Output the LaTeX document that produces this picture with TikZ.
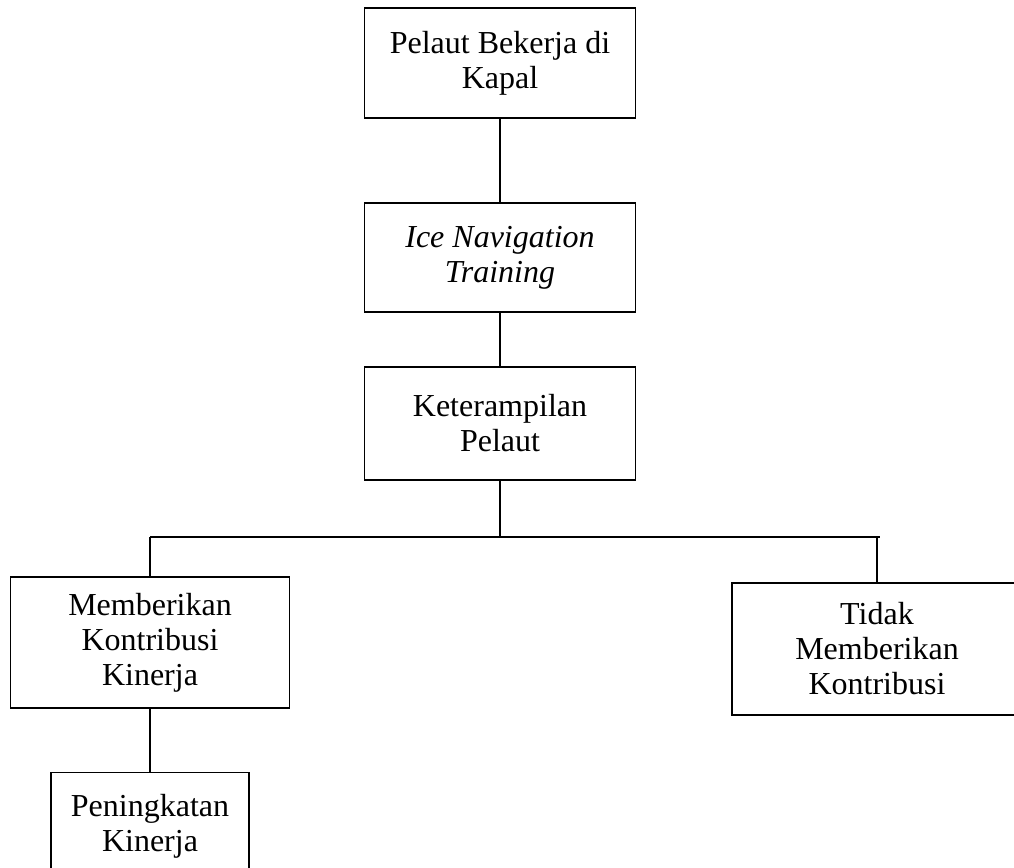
\documentclass[tikz,border=0pt]{standalone}
\usepackage{fontspec}
\setmainfont{Liberation Serif}
\usepackage{tikz}
\usetikzlibrary{positioning}
\tikzset{box/.style={draw, line width=0.6pt, rectangle, align=center, inner sep=0pt, minimum width=135.5pt, font=\fontsize{16}{17.5}\selectfont}, link/.style={draw, line width=0.6pt}}

\begin{document}
\begin{tikzpicture}[x=0.5pt, y=-0.5pt]
    \useasboundingbox (0,0) rectangle (1014,868);
    \node[box, minimum height=55pt] (Kapal) at (500,63) {Pelaut Bekerja di\\Kapal};
    \node[box, minimum height=54.5pt, font=\fontsize{16}{17.5}\selectfont\itshape] (Ice) at (500,257.5) {Ice Navigation\\Training};
    \node[box, minimum height=56.5pt] (Skill) at (500,423.5) {Keterampilan\\Pelaut};
    \node[box, minimum width=139.5pt, minimum height=65.5pt] (Kontribusi) at (150,642.5) {Memberikan\\Kontribusi\\Kinerja};
    \node[box, minimum width=145pt, minimum height=66pt] (Tidak) at (877,649) {Tidak\\Memberikan\\Kontribusi};
    \node[box, minimum width=99pt, minimum height=54pt, anchor=north] (Kinerja) at (150,772) {Peningkatan\\Kinerja};
    \coordinate (Bus) at (500,537);
    \coordinate (BusL) at (150,537);
    \coordinate (BusR) at (880,537);
    \path[link] (Kapal) -- (Ice);
    \path[link] (Ice) -- (Skill);
    \path[link] (Skill.south) -- (Bus);
    \path[link] (BusL) -- (BusR);
    \path[link] (BusL) -- (Kontribusi.north);
    \path[link] (Bus -| Tidak.north) -- (Tidak.north);
    \path[link] (Kontribusi) -- (Kinerja);
\end{tikzpicture}
\end{document}
